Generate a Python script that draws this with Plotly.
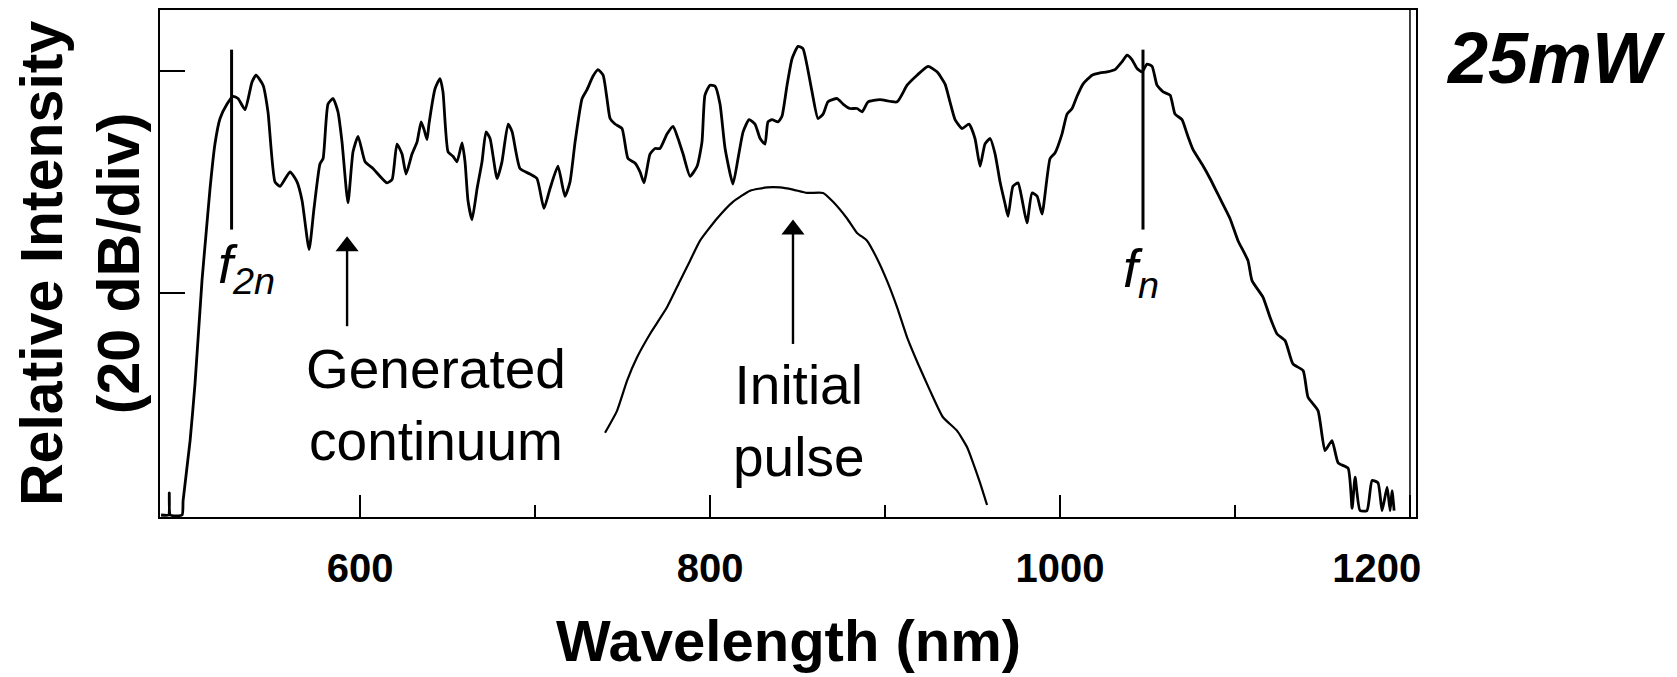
import plotly.graph_objects as go

# ---- data (wavelength in nm, relative intensity in dB; 20 dB per division) ----
cont_wl = [486.3, 490.6, 491.0, 491.6, 498.3, 498.9, 502.9, 505.7, 509.7, 512.0, 514.3, 517.1,
           520.0, 524.0, 527.4, 530.3, 534.3, 538.3, 540.6, 544.6, 547.4, 551.4, 554.3, 560.0,
           564.0, 566.9, 570.9, 573.7, 577.1, 578.9, 581.7, 584.6, 587.4, 589.7, 593.1, 596.0,
           598.9, 602.9, 607.4, 615.4, 618.3, 621.1, 624.0, 626.3, 629.7, 632.6, 634.9, 636.6,
           638.3, 639.4, 642.9, 645.7, 647.4, 650.3, 653.1, 655.4, 658.3, 660.0, 661.7, 664.0,
           666.9, 669.7, 672.0, 674.3, 678.3, 681.1, 684.6, 686.9, 691.4, 697.1, 701.1, 705.1,
           708.6, 713.1, 717.1, 720.0, 722.9, 726.9, 729.7, 733.1, 736.0, 738.9, 741.1, 742.9,
           745.7, 749.7, 753.1, 757.1, 760.0, 762.3, 765.7, 768.6, 771.4, 775.4, 778.9, 781.7,
           784.6, 788.6, 792.6, 795.4, 797.1, 800.0, 802.9, 805.7, 808.6, 813.1, 816.0, 818.9,
           822.3, 825.7, 828.6, 831.4, 833.1, 835.4, 838.9, 841.1, 844.0, 846.9, 850.3, 853.1,
           855.4, 858.3, 861.7, 864.6, 867.4, 872.6, 876.0, 880.0, 884.0, 886.9, 890.3, 897.1,
           906.9, 912.6, 918.3, 924.6, 929.7, 934.3, 937.1, 940.0, 944.0, 948.0, 951.4, 954.3,
           957.1, 960.0, 962.9, 965.7, 968.6, 970.3, 973.1, 976.0, 978.3, 981.1, 984.0, 986.9,
           989.7, 994.3, 997.1, 1001.1, 1004.0, 1006.9, 1009.7, 1013.1, 1018.3, 1022.9, 1026.9,
           1031.4, 1035.4, 1038.3, 1041.1, 1044.0, 1046.9, 1049.7, 1052.6, 1055.4, 1058.9,
           1062.9, 1065.7, 1069.7, 1072.6, 1076.0, 1081.1, 1085.7, 1091.4, 1097.1, 1101.7,
           1107.4, 1109.7, 1116.0, 1120.0, 1124.0, 1128.6, 1133.1, 1138.9, 1141.7, 1147.4,
           1151.4, 1155.4, 1158.9, 1164.6, 1166.9, 1168.6, 1171.4, 1175.4, 1178.3, 1181.7,
           1184.0, 1186.9, 1188.6, 1189.7, 1190.9]
cont_db = [-40.0, -40.0, -38.0, -40.0, -40.0, -38.7, -33.3, -28.2, -18.9, -14.7, -10.6, -6.6,
           -4.3, -3.0, -2.3, -2.5, -3.5, -1.0, -0.4, -1.3, -3.7, -10.0, -10.4, -9.1,
           -10.0, -11.7, -16.1, -12.4, -8.4, -7.9, -3.0, -2.5, -3.7, -6.4, -11.9, -7.3,
           -5.9, -8.2, -8.8, -10.1, -9.8, -6.6, -7.5, -9.3, -7.5, -6.4, -4.6, -5.3,
           -6.2, -4.8, -1.6, -0.7, -1.9, -7.3, -7.7, -8.2, -6.5, -8.2, -11.7, -13.4,
           -10.6, -8.2, -5.5, -6.1, -9.7, -8.2, -4.8, -5.5, -8.8, -9.3, -9.7, -12.4,
           -10.6, -8.6, -11.3, -10.0, -6.4, -2.5, -1.7, -0.5, 0.1, -0.4, -2.5, -4.3,
           -4.8, -5.2, -7.9, -8.3, -9.1, -10.1, -7.5, -7.0, -7.0, -5.7, -5.0, -6.1,
           -7.5, -9.5, -8.6, -6.4, -2.2, -1.3, -1.4, -3.0, -7.0, -10.2, -7.9, -5.5,
           -4.4, -4.8, -6.1, -6.6, -4.6, -4.4, -4.6, -4.1, -1.3, 1.1, 2.2, 2.0,
           0.5, -1.9, -4.3, -3.9, -2.8, -2.5, -3.0, -3.4, -3.4, -3.7, -2.8, -2.6,
           -2.8, -1.3, -0.4, 0.4, -0.1, -1.2, -2.8, -4.4, -5.2, -4.8, -6.1, -8.6,
           -6.6, -6.1, -7.5, -10.0, -12.0, -13.1, -10.4, -10.1, -11.6, -13.7, -11.0, -11.3,
           -12.9, -7.9, -7.4, -5.7, -3.9, -3.4, -2.3, -1.2, -0.4, -0.2, -0.1,
           0.1, 0.8, 1.4, 1.0, 0.2, -0.1, 0.6, 0.4, -1.3, -1.9,
           -2.2, -3.9, -4.4, -5.7, -7.1, -8.4, -9.7, -11.5, -13.3, -15.3,
           -17.1, -18.9, -20.4, -22.2, -23.7, -24.3, -26.4, -27.0, -29.4, -30.6,
           -34.2, -33.3, -35.3, -35.8, -39.4, -36.6, -39.6, -39.6, -36.9, -37.1,
           -39.6, -37.5, -39.6, -37.8, -39.6]

pulse_wl = [740.0, 746.9, 752.6, 758.3, 765.7, 775.4, 782.9, 788.6, 794.3, 804.0, 813.1,
            822.9, 832.6, 840.0, 847.4, 855.4, 864.6, 870.3, 878.3, 884.0, 889.7, 895.4,
            901.1, 906.9, 912.6, 918.9, 925.7, 933.1, 941.1, 946.9, 950.3, 954.3, 958.3]
pulse_db = [-32.6, -30.6, -27.9, -25.8, -23.7, -21.3, -18.9, -17.1, -15.3, -13.3, -11.8,
            -10.8, -10.5, -10.5, -10.7, -11.0, -11.0, -11.8, -13.3, -14.6, -15.3, -16.9,
            -18.9, -21.3, -24.0, -26.4, -28.8, -31.2, -32.4, -33.9, -35.3, -37.1, -39.1]

marker_wl = [526.6, 1047.4]          # f_2n and f_n marker lines
marker_db = [1.9, -14.3]             # top and bottom of marker lines
marker_labels = ["<i>f</i><sub><i>2n</i></sub>", "<i>f</i><sub><i>n</i></sub>"]
marker_label_wl = [535.0, 1046.3]
marker_label_db = [-17.8, -18.1]

arrow_wl = [592.6, 847.4]            # "Generated continuum" arrow, "Initial pulse" arrow
arrow_tail_db = [-23.0, -24.6]
arrow_head_db = [-15.8, -14.3]

x_tickvals = [600, 800, 1000, 1200]
x_ticktext = ["600", "800", "1000", "1200" + "\u00a0" * 6]
x_minor_ticks = [700, 900, 1100]
y_tickvals = [-20, 0]
x_range = [485.7, 1203.4]
y_range = [-40.18, 5.47]

FONT = "Liberation Sans"

fig = go.Figure()
fig.add_trace(go.Scatter(x=cont_wl, y=cont_db, mode="lines",
                         line=dict(color="black", width=2.8, shape="spline", smoothing=0.5),
                         name="Generated continuum"))
fig.add_trace(go.Scatter(x=pulse_wl, y=pulse_db, mode="lines",
                         line=dict(color="black", width=2.2, shape="spline", smoothing=0.5),
                         name="Initial pulse"))
for wl in marker_wl:
    fig.add_trace(go.Scatter(x=[wl, wl], y=marker_db, mode="lines",
                             line=dict(color="black", width=3)))
# arrows: shaft + filled triangular head
for wl, t, h in zip(arrow_wl, arrow_tail_db, arrow_head_db):
    fig.add_trace(go.Scatter(x=[wl, wl], y=[t, h], mode="lines",
                             line=dict(color="black", width=2.4)))
    fig.add_trace(go.Scatter(x=[wl], y=[h], mode="markers",
                             marker=dict(symbol="triangle-up", size=20, color="black",
                                         line=dict(width=0))))

annotations = []
for txt, lx, ly in zip(marker_labels, marker_label_wl, marker_label_db):
    annotations.append(dict(x=lx, y=ly, xref="x", yref="y", text=txt, showarrow=False,
                            xanchor="center", yanchor="middle",
                            font=dict(family=FONT, size=54, color="black")))

annotations.append(dict(x=643.4, y=-30.1, xref="x", yref="y", text="Generated<br>continuum",
                        showarrow=False, xanchor="center", yanchor="middle",
                        font=dict(family=FONT, size=55, color="black")))
annotations.append(dict(x=850.3, y=-31.5, xref="x", yref="y", text="Initial<br>pulse",
                        showarrow=False, xanchor="center", yanchor="middle",
                        font=dict(family=FONT, size=55, color="black")))

# axis titles and power label
annotations.append(dict(x=-0.0629, y=0.501, xref="paper", yref="paper",
                        text="Relative Intensity<br>(20 dB/div)", textangle=-90,
                        showarrow=False, xanchor="center", yanchor="middle",
                        font=dict(family=FONT, size=59, color="black", weight="bold")))
annotations.append(dict(x=0.5, y=-0.243, xref="paper", yref="paper",
                        text="Wavelength (nm)", showarrow=False,
                        xanchor="center", yanchor="middle",
                        font=dict(family=FONT, size=58, color="black", weight="bold")))
annotations.append(dict(x=1.1115, y=0.9057, xref="paper", yref="paper",
                        text="<b><i>25mW</i></b>", showarrow=False,
                        xanchor="center", yanchor="middle",
                        font=dict(family=FONT, size=72, color="black")))

fig.update_layout(
    width=1677, height=677,
    margin=dict(l=160, r=261, t=8, b=160),
    paper_bgcolor="white", plot_bgcolor="white",
    showlegend=False,
    annotations=annotations,
    shapes=[dict(type="line", xref="paper", yref="paper", x0=0.9952, x1=0.9952, y0=0, y1=1,
                 line=dict(color="black", width=1.5))],
)
fig.update_xaxes(range=x_range, showgrid=False, zeroline=False,
                 showline=True, linecolor="black", linewidth=2, mirror=True,
                 tickmode="array", tickvals=x_tickvals, ticktext=x_ticktext,
                 ticks="inside", ticklen=22, tickwidth=2, tickcolor="black",
                 ticklabelstandoff=15,
                 minor=dict(tickvals=x_minor_ticks, ticks="inside", ticklen=12,
                            tickwidth=2, tickcolor="black"),
                 tickfont=dict(family=FONT, size=40, color="black", weight="bold"))
fig.update_yaxes(range=y_range, showgrid=False, zeroline=False,
                 showline=True, linecolor="black", linewidth=2, mirror=True,
                 tickmode="array", tickvals=y_tickvals, showticklabels=False,
                 ticks="inside", ticklen=25, tickwidth=2, tickcolor="black")

fig.write_html("out.html", config={"displayModeBar": False},
               post_script="document.body.style.margin='0';document.body.style.overflow='hidden';")
